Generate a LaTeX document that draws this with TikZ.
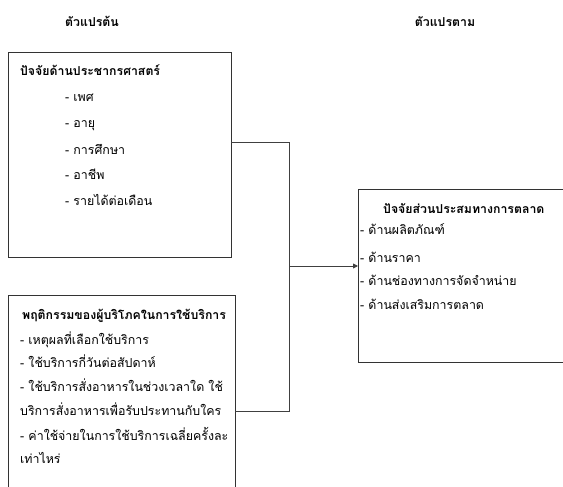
\documentclass[tikz,border=0pt]{standalone}
\usepackage{fontspec}
\setmainfont{Liberation Serif}
\newfontfamily\thai[Script=Thai]{Loma}
\usetikzlibrary{arrows.meta}
\tikzset{
  frame/.style={draw=black!80, line width=0.9pt},
  link/.style={draw=black!75, line width=0.9pt},
  heading/.style={font=\thai\bfseries\fontsize{12.3}{14}\selectfont, anchor=base west, inner sep=0pt},
  entry/.style={font=\thai\fontsize{12.4}{14}\selectfont, anchor=base west, inner sep=0pt},
}
\begin{document}
\begin{tikzpicture}[x=1pt, y=-1pt]
\useasboundingbox (0,0) rectangle (563,487);
\clip (0,0) rectangle (563,487);

% column headings
\node[heading, anchor=base] (hin) at (92,27) {ตัวแปรต้น};
\node[heading, anchor=base] (hout) at (445,27) {ตัวแปรตาม};

% box 1: demographic factors
\draw[frame] (8,52) rectangle (231,257);
\coordinate (b1) at (231,142);
\node[heading] (t1) at (20,76) {ปัจจัยด้านประชากรศาสตร์};
\node[entry] (a1) at (65,102) {- เพศ};
\node[entry] (a2) at (65,128) {- อายุ};
\node[entry] (a3) at (65,154) {- การศึกษา};
\node[entry] (a4) at (65,179) {- อาชีพ};
\node[entry] (a5) at (65,205) {- รายได้ต่อเดือน};

% box 2: consumer behaviour (runs past the lower edge)
\draw[frame] (8,500) -- (8,295) -- (235,295) -- (235,500);
\coordinate (b2) at (235,411);
\node[heading] (t2) at (22,319) {พฤติกรรมของผู้บริโภคในการใช้บริการ};
\node[entry] (c1) at (20,344) {- เหตุผลที่เลือกใช้บริการ};
\node[entry] (c2) at (20,367) {- ใช้บริการกี่วันต่อสัปดาห์};
\node[entry] (c3) at (20,391) {- ใช้บริการสั่งอาหารในช่วงเวลาใด ใช้};
\node[entry] (c4) at (20,415) {บริการสั่งอาหารเพื่อรับประทานกับใคร};
\node[entry] (c5) at (20,440) {-  ค่าใช้จ่ายในการใช้บริการเฉลี่ยครั้งละ};
\node[entry] (c6) at (20,463) {เท่าไหร่};

% box 3: marketing mix (runs past the right edge)
\draw[frame] (580,189) -- (358,189) -- (358,362) -- (580,362);
\coordinate (b3) at (358,266);
\node[heading] (t3) at (383,213) {ปัจจัยส่วนประสมทางการตลาด};
\node[entry] (d1) at (360,234) {- ด้านผลิตภัณฑ์};
\node[entry] (d2) at (360,262) {- ด้านราคา};
\node[entry] (d3) at (360,285) {- ด้านช่องทางการจัดจำหน่าย};
\node[entry] (d4) at (360,309) {- ด้านส่งเสริมการตลาด};

% connectors
\coordinate (j1) at (289,142);
\coordinate (j2) at (289,411);
\coordinate (j3) at (289,266);
\draw[link] (b1) -- (j1) -- (j2) -- (b2);
\draw[link, -{Triangle[length=5pt,width=5pt]}] (j3) -- (b3);
\end{tikzpicture}
\end{document}
